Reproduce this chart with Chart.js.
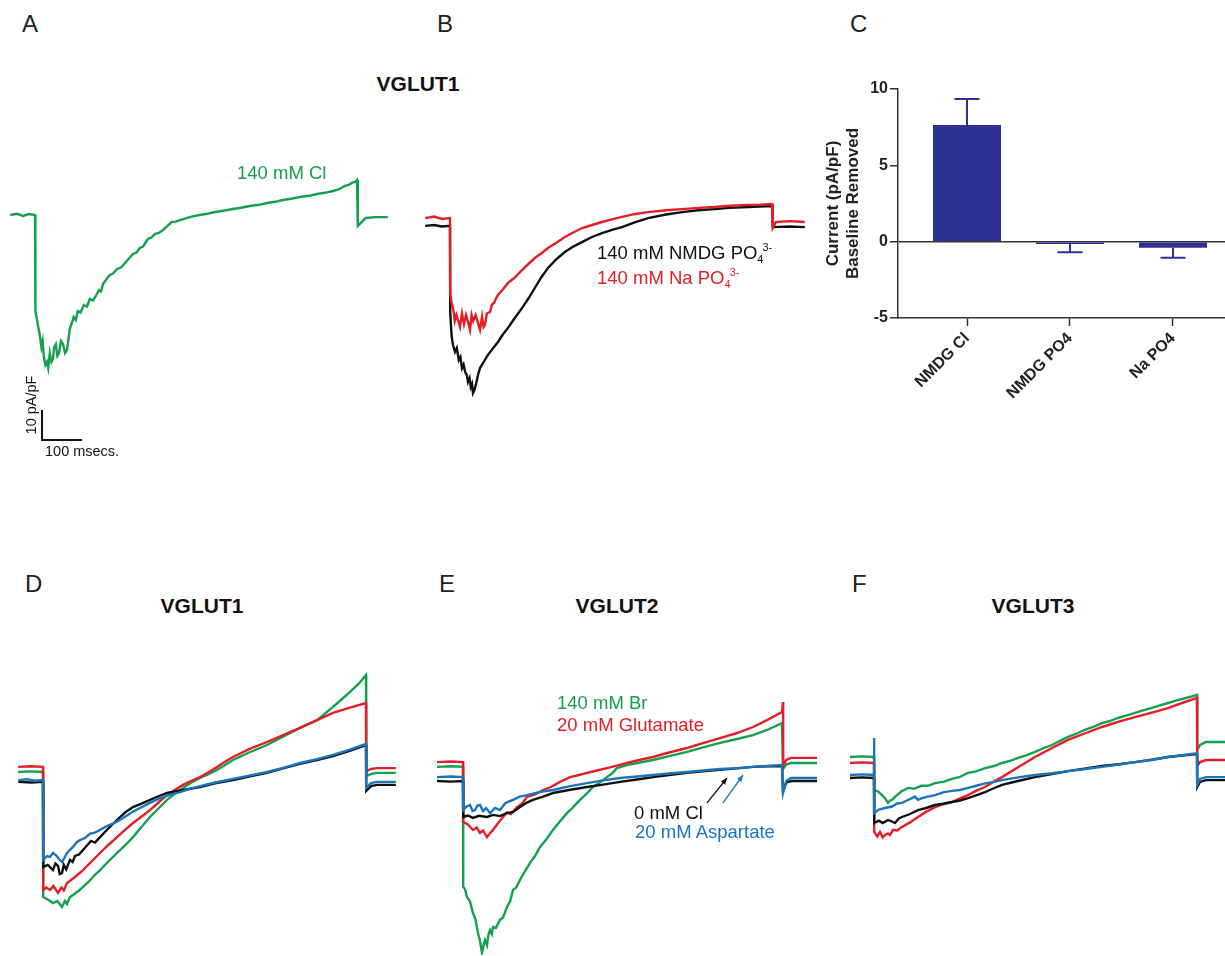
<!DOCTYPE html>
<html>
<head>
<meta charset="utf-8">
<script src="https://cdn.jsdelivr.net/npm/chart.js@4.4.1/dist/chart.umd.min.js"></script>
<style>
  body { margin:0; width:1225px; height:956px; position:relative; overflow:hidden; background:#fff;
         font-family:"Liberation Sans", Arial, Helvetica, sans-serif; }
  canvas { position:absolute; }
  .t { position:absolute; white-space:nowrap; line-height:1; }
</style>
</head>
<body>
<canvas id="pA"></canvas>
<canvas id="pB"></canvas>
<canvas id="pC"></canvas>
<canvas id="pD"></canvas>
<canvas id="pE"></canvas>
<canvas id="pF"></canvas>
<script>
// traces: [time (ms from pulse start), current (pA/pF, relative to baseline)]
const aCl = [[-62,0],[-45,0.4],[-30,-0.3],[-15,0.3],[0,0],[1,-32],[5,-35],[9,-38],[12,-40],[16,-44],[19,-42],[22,-47],[26,-50],[30,-49],[33,-51],[37,-46],[41,-49],[45,-48],[48,-44],[52,-43],[56,-47],[60,-46],[65,-42],[70,-43],[75,-46],[80,-45],[84,-41],[87,-38],[92,-36],[97,-34],[102,-35],[107,-32],[114,-32.5],[122,-30],[130,-30.5],[137,-28],[145,-28.5],[152,-27],[160,-25],[165,-25.5],[170,-23],[178,-21.5],[187,-20],[195,-19.5],[205,-18],[215,-17.5],[225,-16],[235,-14.5],[245,-13],[254,-12.5],[262,-11],[270,-10.5],[282,-8],[291,-7.5],[300,-6.3],[310,-6],[320,-5],[330,-3.8],[342,-2.3],[352,-2.2],[362,-1.7],[375,-1.2],[387,-0.7],[400,-0.3],[412,0],[430,0.4],[450,1],[470,1.4],[495,2],[515,2.4],[537,3],[560,3.4],[580,4],[600,4.4],[620,5],[640,5.4],[662,6],[685,6.4],[705,7],[725,7.4],[745,8],[760,8.6],[775,9.7],[784,10],[792,10.7],[800,11],[805,11.7],[807,-3.7],[812,-3],[817,-2.3],[822,-1.6],[827,-1],[850,-0.7],[882,-0.7]];
const aScaleBar = [[17.5,-65],[17.5,-75],[117.5,-75]];

const bNaPO4 = [[-62,1.3],[-40,1.8],[-20,1],[0,1.3],[0.5,-24],[4,-27],[7.5,-28.7],[12,-33],[16,-31],[20,-32.7],[25,-35],[30,-30.5],[35,-34],[40,-31],[45,-33.3],[50,-36],[54,-31],[58,-33],[64,-31],[70,-33.7],[75,-36],[80,-31.5],[84,-35],[87.5,-34.3],[92,-30.5],[100,-30],[105,-27.5],[110,-27],[115,-25.5],[120,-24.3],[132,-22.5],[145,-20.3],[162,-18.5],[180,-16],[196,-14],[212,-12],[228,-10.5],[245,-8.7],[265,-7],[287,-5],[308,-3.5],[330,-2],[355,-1],[380,0],[405,0.9],[430,1.7],[460,2.6],[495,3.3],[540,3.9],[580,4.3],[620,4.7],[662,5],[700,5.4],[745,5.7],[775,5.8],[805,6],[807,-2],[815,0],[850,0.3],[887,0]];
const bNMDGPO4 = [[-62,-1.3],[-40,-1],[-20,-1.5],[0,-1.3],[0.5,-30],[4,-38],[7.5,-41],[12.5,-43.3],[17,-42],[22,-46],[26,-45],[30,-48.7],[34,-47.5],[38,-50],[42,-51],[45,-53.3],[49,-52],[52,-55],[55,-54],[57.5,-57],[61,-56],[65,-54],[70,-51],[75,-48.7],[85,-46.5],[95,-44.3],[108,-42],[120,-40],[132,-37.5],[145,-35.3],[162,-32],[180,-28.7],[196,-25.5],[212,-22],[228,-18.5],[245,-15.3],[265,-12.5],[287,-10],[308,-8.2],[330,-6.7],[355,-5],[380,-3.7],[405,-2.6],[430,-1.7],[460,-0.2],[495,1.3],[540,2.5],[580,3.3],[620,3.9],[662,4.3],[700,4.7],[745,5],[805,5.3],[807,-1.7],[850,-1.5],[887,-1.7]];

// panel C bar graph
const cLabels = ['NMDG Cl', 'NMDG PO4', 'Na PO4'];
const cMeans = [7.65, -0.15, -0.4];
const cSem = [1.7, 0.55, 0.65];
const cTicks = [10, 5, 0, -5];

const dBlue = [[-62,-1.7],[-40,-1.4],[-20,-1.9],[0,-1.7],[0.5,-28.3],[10,-27],[17.5,-27.3],[25,-26],[32,-26.7],[40,-28],[47.5,-29],[54,-27.5],[60,-26],[67,-25],[75,-24],[84,-22.5],[92.5,-21.7],[105,-21],[118,-19.5],[130,-19.2],[142.5,-18.3],[160,-17],[175,-16.2],[192.5,-15],[210,-13.5],[225,-12.2],[242.5,-11],[260,-9.8],[275,-8.8],[292.5,-7.7],[310,-6.9],[325,-6.3],[342.5,-5.7],[365,-4.7],[392.5,-3.7],[430,-2.5],[475,-1.3],[515,-0.2],[560,1],[600,2.4],[642.5,4],[685,5.3],[725,6.7],[765,8.4],[800,10],[807.5,10.3],[808,-4.3],[820,-2.7],[835,-2.3],[882,-2.3]];
const dBlack = [[-62,-2.3],[-30,-2.5],[0,-2.3],[0.5,-30.7],[12,-30],[25,-31.7],[31,-29.5],[37.5,-30.3],[42,-33],[47.5,-32.7],[52,-30],[58,-31.5],[67.5,-28.3],[74,-29],[80,-27],[90,-26.5],[100,-25],[110,-23.5],[120,-22],[130,-22.5],[142.5,-20.7],[162,-18],[185,-15],[205,-12.5],[225,-10.7],[245,-9.6],[267.5,-8.3],[290,-7],[310,-6],[350,-5],[392.5,-4],[430,-2.8],[475,-1.7],[515,-0.5],[560,0.7],[600,2.2],[642.5,3.7],[685,5],[725,6.3],[765,8],[807.5,10],[808,-5.3],[820,-3.7],[835,-3.3],[882,-3.3]];
const dRed = [[-62,2.7],[-30,2.9],[0,2.7],[0.5,-38.3],[8,-37.5],[17.5,-38.3],[26,-37],[37.5,-39.3],[46,-37.5],[52,-38.5],[60,-36],[80,-34],[100,-31.7],[120,-29],[142.5,-26],[162,-23.5],[185,-20.7],[205,-18.3],[225,-16],[245,-14],[267.5,-11.7],[290,-9],[310,-6.7],[330,-4.9],[350,-3.3],[370,-2],[392.5,-0.7],[415,1],[435,2.7],[455,4.4],[475,6],[515,8.6],[560,11],[600,13.3],[642.5,15.7],[685,18.3],[725,20.7],[765,22.4],[807.5,24],[808,1.3],[820,2],[835,2.3],[882,2.3]];
const dGreen = [[-62,1],[-30,1.2],[0,1],[0.5,-40.7],[12,-41.5],[25,-42.7],[36,-42],[47.5,-44],[55,-42],[60,-43],[67.5,-40.7],[80,-39.5],[90,-38.5],[100,-37.3],[115,-35.5],[128,-33.5],[142.5,-31.7],[162,-29],[185,-26],[205,-23.5],[225,-20.7],[245,-17.5],[267.5,-14],[290,-11],[310,-8.3],[330,-6.2],[350,-4.3],[370,-2.6],[392.5,-1],[415,0.4],[435,1.7],[455,3.3],[475,5],[515,7.5],[560,10],[600,12.8],[642.5,15.7],[685,18.3],[725,22.7],[745,25],[767.5,27.7],[790,30.5],[807.5,33.3],[808,-0.3],[820,0.3],[835,0.7],[882,0.7]];

const eGreen = [[-65,2.7],[-30,2.9],[0,2.7],[0.5,-37.3],[5,-38],[10,-40.7],[17,-42],[25,-46],[31,-48],[37.5,-52.7],[42,-55],[47.5,-59.3],[51,-57],[55,-55],[60,-56.7],[64,-53],[67.5,-51.7],[72,-53],[75,-50.7],[82,-51],[92.5,-48.3],[100,-47.5],[110,-44],[118,-42],[125,-38.3],[133,-37.5],[142.5,-35],[155,-32],[167.5,-29.3],[180,-27],[192.5,-24],[208,-21.5],[225,-18.3],[242,-15.5],[260,-12.7],[275,-10.8],[292.5,-8.3],[308,-6.4],[325,-4],[342,-2.5],[360,-0.7],[372,0.5],[385,2.3],[397,2.8],[410,3.3],[440,4.1],[475,5],[515,6.3],[560,7.7],[600,9.2],[642.5,10.7],[685,12],[725,13.3],[760,15],[797.5,17.3],[800,2],[808,3.5],[820,4],[885,4]];
const eRed = [[-65,4.3],[-30,4.5],[0,4.3],[0.5,-15.7],[12,-16.5],[25,-18.3],[34,-17.5],[42.5,-19.3],[50,-18.5],[60,-20.7],[67,-19.5],[75,-18.3],[88,-16],[100,-14],[110,-12.5],[120,-13],[135,-10.7],[148,-9.5],[160,-7.3],[180,-6.5],[200,-5],[220,-4],[242.5,-2.3],[267.5,-0.7],[290,0],[310,0.7],[335,1.5],[360,2.3],[385,3.1],[410,4],[440,5],[475,6],[515,7.5],[560,9],[600,10.6],[642.5,12.3],[685,14],[725,16],[760,18.3],[797.5,21],[800,24.3],[800.5,3],[808,5],[820,5.7],[885,5.7]];
const eBlue = [[-65,-0.7],[-30,-0.5],[0,-0.7],[0.5,-11.7],[9,-10.5],[17.5,-10],[24,-12],[30,-11.7],[36,-10.2],[42.5,-10],[50,-12],[58,-11],[67.5,-12.7],[80,-11],[92.5,-11.7],[105,-9.5],[115,-8.8],[125,-8.3],[142,-7.2],[160,-6.7],[190,-5.7],[225,-5],[265,-3.8],[310,-2.7],[350,-1.8],[392.5,-1],[435,-0.5],[475,0],[515,0.5],[560,1],[600,1.5],[642.5,2],[685,2.3],[725,2.7],[760,3],[797.5,3.3],[800,-6],[808,-2],[820,-1],[885,-1]];
const eBlack = [[-65,-2],[-30,-2.2],[0,-2],[0.5,-14],[12,-13.5],[25,-14.3],[40,-13.6],[60,-14],[75,-13.3],[92.5,-13.7],[108,-12.8],[125,-12.3],[142.5,-10.7],[158,-9.3],[175,-8.3],[200,-7.2],[225,-6],[265,-5],[310,-4],[350,-3.2],[392.5,-2.3],[435,-1.5],[475,-0.7],[515,0],[560,0.7],[600,1.2],[642.5,1.7],[685,2.2],[725,2.7],[760,2.9],[797.5,3],[800,-5.5],[808,-2.5],[820,-2],[885,-2]];
// arrows pointing at the 0 mM Cl and aspartate traces: [t0, v0, t1, v1]
const eArrowBlack = [610, -9.3, 660, -1];
const eArrowBlue = [650, -9.3, 700, 0];

const fGreen = [[-60,6],[-30,6.2],[0,6],[0.5,-5],[10,-5.5],[20,-6.7],[28,-7.8],[35,-9.3],[40,-8.5],[45,-8.3],[52.5,-7.3],[68,-5.5],[85,-4.3],[100,-4.6],[118,-3.6],[135,-3.6],[152.5,-2.7],[175,-2.2],[195,-1.3],[215,-0.6],[235,0.7],[255,1.2],[278,2.3],[300,3],[320,4],[342,4.8],[362,5.8],[382,6.6],[402.5,7.7],[425,9],[445,10],[465,11.4],[485,12.7],[510,14],[530,15.2],[550,16.1],[570,17.3],[590,18],[610,19],[630,19.8],[652.5,20.7],[675,21.6],[695,22.4],[715,23.2],[735,24],[755,24.8],[775,25.5],[795,26.2],[807.5,26.7],[808,8.3],[815,10],[830,11],[878,11]];
const fRed = [[-60,4],[-30,4.2],[0,4],[0.5,-19],[8,-20.5],[15,-19],[22,-20.8],[27.5,-20],[35,-19.5],[40,-20],[47.5,-18.3],[58,-18.5],[70,-17.3],[90,-15.8],[110,-14],[130,-12.3],[152.5,-10.7],[172,-9.8],[195,-9],[215,-7.8],[235,-6.7],[255,-5.3],[277.5,-4],[298,-2.3],[320,-0.7],[360,2.6],[402.5,6],[445,9],[485,11.7],[530,14],[570,16],[612,17.8],[652.5,19.3],[695,20.8],[735,22.3],[770,24],[807.5,25.7],[808,3],[815,4.3],[830,5],[878,5]];
const fBlue = [[-60,0],[-30,0.2],[0,0],[0.2,12.3],[0.5,-12.7],[12,-11.5],[27.5,-11],[45,-10.5],[58,-9.5],[70,-9.3],[82,-8.5],[95,-7.7],[102,-7.2],[110,-8.3],[120,-7.7],[135,-7.2],[152.5,-6.7],[175,-5.7],[195,-5.3],[215,-5],[235,-4.3],[258,-3.5],[278,-2.8],[300,-2.3],[320,-1.7],[360,-0.8],[402.5,0],[445,0.6],[485,1.3],[530,2],[570,2.7],[612,3.5],[652.5,4.3],[695,5.1],[735,6],[770,6.6],[807.5,7.3],[808,-3.3],[815,-1.3],[830,-0.7],[878,-0.7]];
const fBlack = [[-60,-1],[-30,-0.8],[0,-1],[0.5,-16],[12,-15.2],[22,-16],[35,-15],[45,-15.5],[52.5,-16],[62,-14.5],[70,-14],[90,-13],[110,-11.7],[130,-11],[152.5,-10],[172,-9.6],[195,-9],[215,-8.5],[235,-7.7],[255,-6.8],[277.5,-5.7],[298,-4.5],[320,-3.3],[360,-2],[402.5,-0.7],[445,0.3],[485,1.3],[530,2.2],[570,3],[612,3.6],[652.5,4.3],[695,5.1],[735,6],[770,6.5],[807.5,7],[808,-4],[815,-2.3],[830,-1.7],[878,-1.7]];

const GREEN = '#14a04e', RED = '#e41e26', BLACK = '#111111', BLUE = '#1b75bc', NAVY = '#2e3192';
const SX = 0.4, SY = 3;   // px per ms, px per pA/pF
Chart.defaults.font.family = '"Liberation Sans", Arial, sans-serif';

// x0,y0: page pixel where t=0, v=0 sits
function traceChart(id, x0, y0, xmin, xmax, ymin, ymax, sets, extra) {
  const c = document.getElementById(id);
  c.width = Math.round((xmax - xmin) * SX);
  c.height = Math.round((ymax - ymin) * SY);
  c.style.left = (x0 + xmin * SX) + 'px';
  c.style.top = (y0 - ymax * SY) + 'px';
  return new Chart(c, {
    type: 'scatter',
    data: {
      datasets: sets.map(s => ({
        data: s.data.map(p => ({x: p[0], y: p[1]})),
        borderColor: s.color, borderWidth: s.width || 2.4,
        showLine: true, pointRadius: 0, fill: false
      }))
    },
    options: {
      responsive: false, animation: false, events: [],
      layout: {padding: 0},
      plugins: {legend: {display: false}, tooltip: {enabled: false}},
      scales: {
        x: {type: 'linear', display: false, min: xmin, max: xmax},
        y: {type: 'linear', display: false, min: ymin, max: ymax}
      }
    },
    plugins: extra || []
  });
}

traceChart('pA', 35, 215, -70, 890, -80, 15, [
  {data: aCl, color: GREEN},
  {data: aScaleBar, color: BLACK, width: 2}
]);
traceChart('pB', 450, 222, -70, 900, -65, 10, [
  {data: bNaPO4, color: RED},
  {data: bNMDGPO4, color: BLACK}
]);
traceChart('pD', 43, 775, -70, 890, -50, 40, [
  {data: dBlue, color: BLUE}, {data: dBlack, color: BLACK},
  {data: dRed, color: RED}, {data: dGreen, color: GREEN}
]);

const arrowPlugin = {
  id: 'arrows',
  afterDatasetsDraw(chart) {
    const ctx = chart.ctx, xs = chart.scales.x, ys = chart.scales.y;
    [[eArrowBlack, BLACK], [eArrowBlue, BLUE]].forEach(([a, col]) => {
      const x0 = xs.getPixelForValue(a[0]), y0 = ys.getPixelForValue(a[1]);
      const x1 = xs.getPixelForValue(a[2]), y1 = ys.getPixelForValue(a[3]);
      const ang = Math.atan2(y1 - y0, x1 - x0);
      ctx.save();
      ctx.strokeStyle = col; ctx.fillStyle = col; ctx.lineWidth = 1.3;
      ctx.beginPath(); ctx.moveTo(x0, y0); ctx.lineTo(x1, y1); ctx.stroke();
      ctx.beginPath();
      ctx.moveTo(x1, y1);
      ctx.lineTo(x1 - 7 * Math.cos(ang - 0.4), y1 - 7 * Math.sin(ang - 0.4));
      ctx.lineTo(x1 - 7 * Math.cos(ang + 0.4), y1 - 7 * Math.sin(ang + 0.4));
      ctx.closePath(); ctx.fill();
      ctx.restore();
    });
  }
};
traceChart('pE', 463, 775, -70, 890, -60, 30, [
  {data: eBlue, color: BLUE}, {data: eBlack, color: BLACK},
  {data: eRed, color: RED}, {data: eGreen, color: GREEN}
], [arrowPlugin]);
traceChart('pF', 874, 775, -65, 880, -30, 30, [
  {data: fBlue, color: BLUE}, {data: fBlack, color: BLACK},
  {data: fRed, color: RED}, {data: fGreen, color: GREEN}
]);

// panel C
const errPlugin = {
  id: 'errbars',
  afterDatasetsDraw(chart) {
    const ctx = chart.ctx, xs = chart.scales.x, ys = chart.scales.y;
    ctx.save();
    ctx.strokeStyle = NAVY; ctx.lineWidth = 2;
    cMeans.forEach((m, i) => {
      const x = xs.getPixelForValue(i);
      const y0 = ys.getPixelForValue(m);
      const y1 = ys.getPixelForValue(m + Math.sign(m) * cSem[i]);
      ctx.beginPath();
      ctx.moveTo(x, y0); ctx.lineTo(x, y1);
      ctx.moveTo(x - 12.5, y1); ctx.lineTo(x + 12.5, y1);
      ctx.stroke();
    });
    ctx.restore();
  }
};
const cc = document.getElementById('pC');
cc.width = 403; cc.height = 400;
cc.style.left = '822px'; cc.style.top = '70px';
const boldFont = {size: 16, weight: 'bold'};
new Chart(cc, {
  type: 'bar',
  data: {
    datasets: [{
      data: cMeans.map((v, i) => ({x: i, y: v})),
      backgroundColor: NAVY, borderWidth: 0,
      barPercentage: 0.66, categoryPercentage: 1
    }]
  },
  options: {
    responsive: false, animation: false, events: [],
    layout: {padding: {top: 19, left: 0, right: 0, bottom: 0}},
    plugins: {legend: {display: false}, tooltip: {enabled: false}},
    scales: {
      x: {
        type: 'linear', min: -0.67, max: 2.505, offset: false,
        afterBuildTicks: s => { s.ticks = cLabels.map((l, i) => ({value: i})); },
        ticks: {callback: v => cLabels[v], minRotation: 45, maxRotation: 45,
                font: boldFont, color: '#222', padding: 3, autoSkip: false},
        grid: {offset: false, drawOnChartArea: false, tickLength: 8, tickColor: '#333', tickWidth: 1.5},
        border: {color: '#333', width: 1.5},
        afterFit: s => { s.height = 152; }
      },
      y: {
        min: -5, max: 10,
        afterBuildTicks: s => { s.ticks = cTicks.map(v => ({value: v})); },
        ticks: {font: boldFont, color: '#222', padding: 2},
        grid: {color: c => (c.tick && c.tick.value === 0) ? '#333' : 'rgba(0,0,0,0)',
               lineWidth: 1.5, tickLength: 8, tickColor: '#333', tickWidth: 1.5},
        border: {color: '#333', width: 1.5},
        title: {display: true, text: ['Current (pA/pF)', 'Baseline Removed'],
                font: {size: 17, weight: 'bold'}, color: '#222', padding: {top: 1, bottom: 0}},
        afterFit: s => { s.width = 76; }
      }
    }
  },
  plugins: [errPlugin]
});

// text
function txt(html, x, base, size, opt) {
  opt = opt || {};
  const d = document.createElement('div');
  d.className = 't';
  d.innerHTML = html;
  d.style.fontSize = size + 'px';
  d.style.left = x + 'px';
  d.style.top = (base - 0.8465 * size) + 'px';
  d.style.color = opt.color || '#222';
  if (opt.bold) d.style.fontWeight = 'bold';
  if (opt.center) d.style.transform = 'translateX(-50%)';
  document.body.appendChild(d);
  return d;
}
[['A', 22, 32], ['B', 437, 32], ['C', 850, 32], ['D', 25, 592], ['E', 439, 592], ['F', 852, 592]]
  .forEach(p => txt(p[0], p[1], p[2], 24));
txt('VGLUT1', 418, 91, 21, {bold: true, center: true, color: '#111'});
txt('VGLUT1', 202, 613, 21, {bold: true, center: true, color: '#111'});
txt('VGLUT2', 617, 613, 21, {bold: true, center: true, color: '#111'});
txt('VGLUT3', 1033, 613, 21, {bold: true, center: true, color: '#111'});

txt('140 mM Cl', 237, 180, 18.5, {color: GREEN});
const po4 = '<span style="font-size:11px;position:relative;top:4px">4</span>' +
            '<span style="font-size:11px;position:relative;top:-8px;margin-left:-1px">3-</span>';
txt('140 mM NMDG PO' + po4, 597, 260, 18.5, {color: BLACK});
txt('140 mM Na PO' + po4, 597, 285, 18.5, {color: RED});

txt('140 mM Br', 557, 710, 18.5, {color: GREEN});
txt('20 mM Glutamate', 557, 732, 18.5, {color: RED});
txt('0 mM Cl', 634, 820, 18.5, {color: BLACK});
txt('20 mM Aspartate', 635, 839, 18.5, {color: BLUE});

txt('100 msecs.', 45, 456, 14.5, {color: BLACK});
const sb = txt('10 pA/pF', 31, 405, 14.5, {color: BLACK});
sb.style.top = '405px';
sb.style.transform = 'translate(-50%,-50%) rotate(-90deg)';
</script>
</body>
</html>
